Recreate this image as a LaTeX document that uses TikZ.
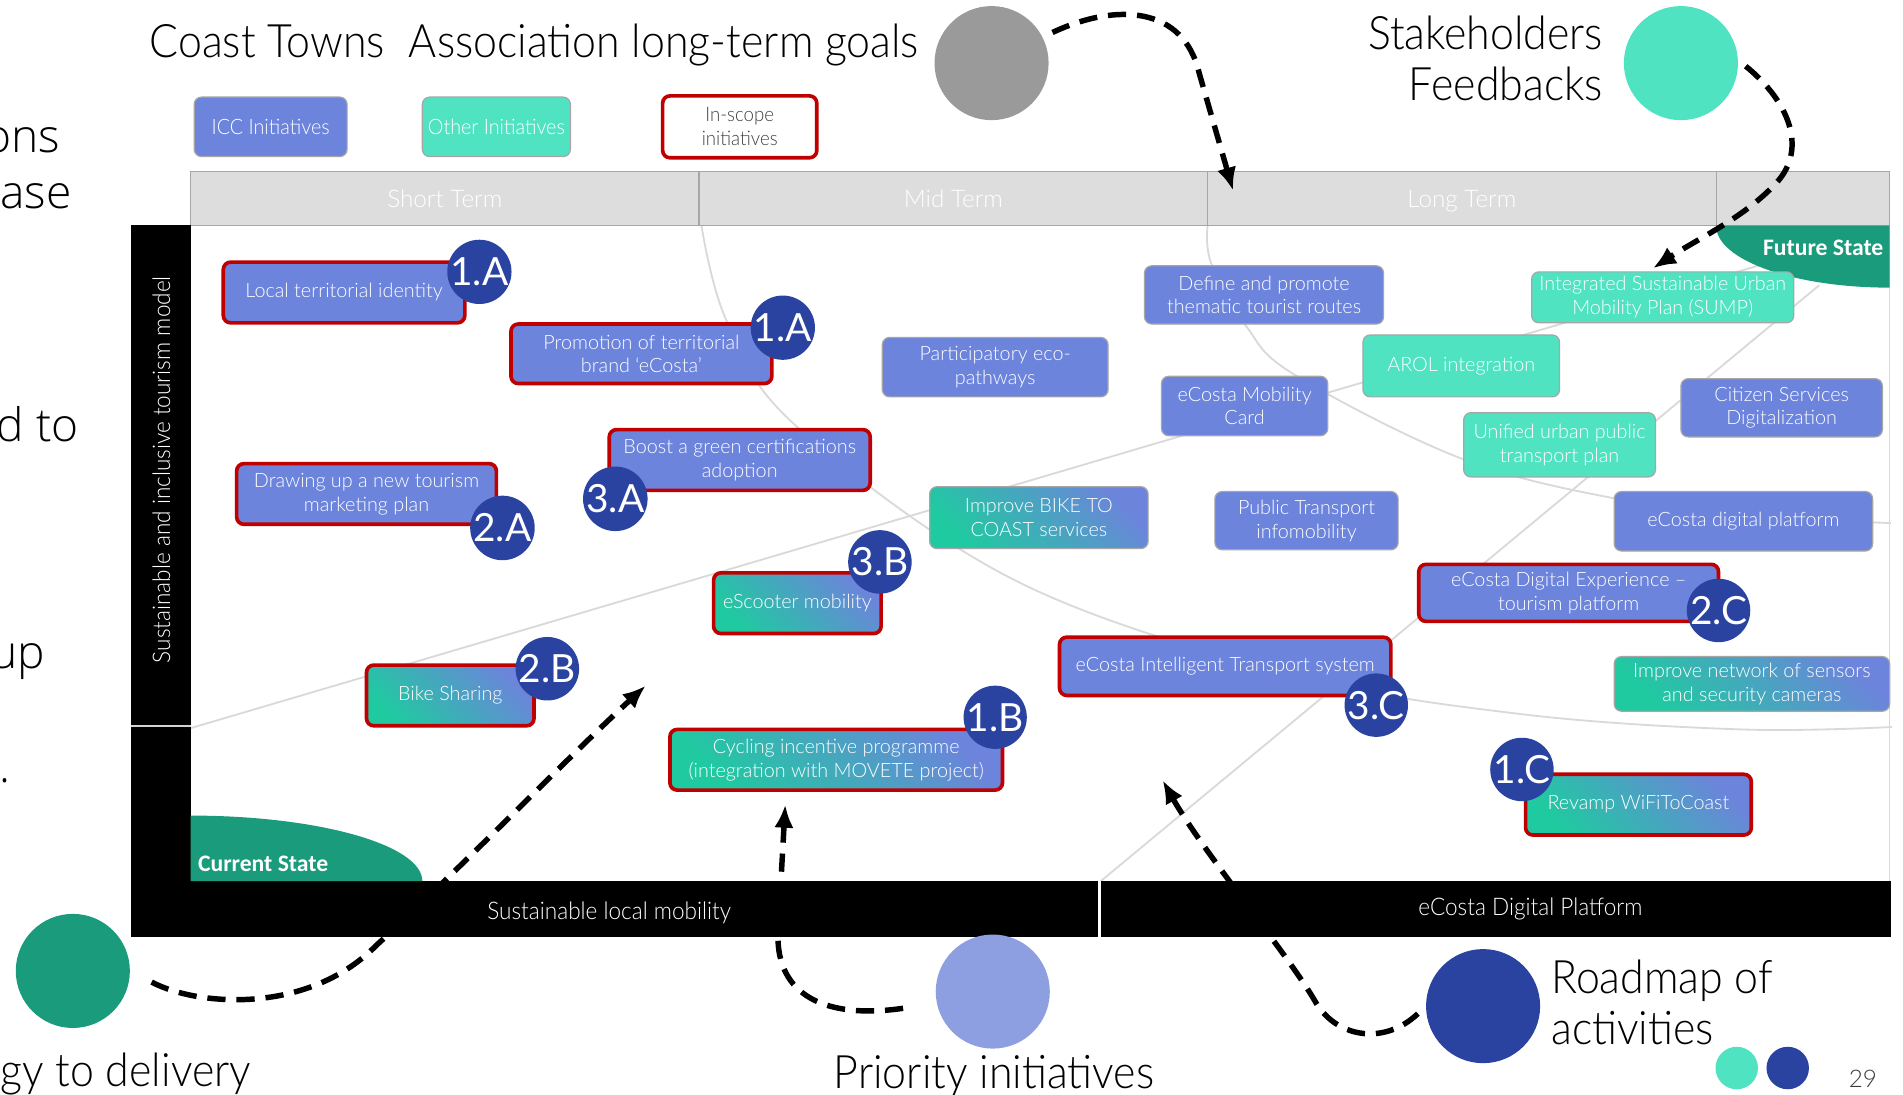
\documentclass[tikz,border=0pt]{standalone}
\usepackage{fontspec}
\usetikzlibrary{arrows.meta}

\IfFontExistsTF{Lato Light}{%
  \newfontfamily\latolight{Lato Light}%
  \newfontfamily\narrowlight{Lato Light}[FakeStretch=0.93]%
}{%
  \newfontfamily\latolight{Lato}%
  \newfontfamily\narrowlight{Lato}[FakeStretch=0.93]%
}
\newfontfamily\latoreg{Lato}
\newfontfamily\carlito{Carlito}
\IfFontExistsTF{Open Sans Light}{\newfontfamily\geofont{Open Sans Light}}{\newfontfamily\geofont{Open Sans}}
\newcommand\setfs[2]{\fontsize{#1}{#2}\selectfont}

\definecolor{iccblue}{HTML}{6C84DB}
\definecolor{turq}{HTML}{50E3C2}
\definecolor{tealg}{HTML}{1FCAA0}
\definecolor{deepgreen}{HTML}{1A9B7C}
\definecolor{navy}{HTML}{2A43A0}
\definecolor{lilac}{HTML}{8E9FE1}
\definecolor{scopered}{HTML}{C00000}
\definecolor{edgegray}{HTML}{A6A6A6}
\definecolor{headgray}{HTML}{DDDDDD}
\definecolor{roadgray}{HTML}{D9D9D9}
\definecolor{circgray}{HTML}{9A9A9A}
\definecolor{inktext}{HTML}{404040}
\definecolor{pagegray}{HTML}{3A3A3A}

\begin{document}
\begin{tikzpicture}[x=1pt, y=-1pt,
  initbox/.style={rounded corners=6pt, draw=edgegray, line width=1pt, text=white,
    align=center, inner sep=0pt, font=\latolight\setfs{16.3}{19.6}},
  iccbox/.style={initbox, fill=iccblue},
  othbox/.style={initbox, fill=turq},
  mixbox/.style={initbox, top color=iccblue, bottom color=tealg, shading angle=-45},
  inscope/.style={draw=scopered, line width=3pt},
  badge/.style={circle, fill=navy, minimum size=48, inner sep=0pt, text=white,
    font=\latoreg\setfs{32}{32}},
  road/.style={draw=roadgray, line width=1.5},
  flow/.style={draw=black, line width=4.5, dash pattern=on 15pt off 9pt,
    -{Latex[length=19pt,width=16pt]}},
  disc/.style={circle, minimum size=94, inner sep=0pt},
  smalldisc/.style={circle, minimum size=35, inner sep=0pt},
  headcell/.style={draw=edgegray, fill=headgray, line width=1, minimum height=45,
    inner sep=0pt, text height=19pt, text depth=4pt, text=white,
    font=\latolight\setfs{20}{24}},
  barlabel/.style={text=white, inner sep=0pt, font=\narrowlight\setfs{20}{23}},
  statelabel/.style={text=white, inner sep=0pt, font=\carlito\bfseries\setfs{19.5}{23}},
  title/.style={inner sep=0pt, font=\narrowlight\setfs{38}{42}},
  frag/.style={inner sep=0pt, font=\geofont\setfs{38}{44}}
]
\useasboundingbox (0,0) rectangle (1568,902);
\fill[white] (0,0) rectangle (1568,902);

% background road curves behind the initiatives
\draw[road] plot[smooth, tension=0.6] coordinates {(578,186) (599,265) (656,351) (836,478) (1060,555) (1250,588) (1434,601) (1559,599)};
\draw[road] plot[smooth, tension=0.6] coordinates {(995,186) (998,217) (1027,269) (1067,309) (1202,377) (1327,410) (1450,425) (1558,431)};
\draw[road] (157,600) -- (1462,215);
\draw[road] (907,726) -- (1499,235);
\draw[roadgray, line width=1] (1557,186) -- (1557,726);

% time horizon header
\node[headcell, minimum width=419] (hshort) at (366.5,163.5) {Short Term};
\node[headcell, minimum width=419] (hmid) at (785.5,163.5) {Mid Term};
\node[headcell, minimum width=419] (hlong) at (1204.5,163.5) {Long Term};
\node[headcell, minimum width=143] (hend) at (1485.5,163.5) {};

% axis bars
\fill[black] (108,185) rectangle (157,597);
\fill[black] (108,599) rectangle (157,726);
\fill[black] (108,726) rectangle (905,772);
\fill[black] (907,726) rectangle (1558,772);
\draw[gray!35, line width=1.5] (108,598) -- (157,598);
\node[barlabel] (lblmob) at (502,752) {Sustainable local mobility};
\node[barlabel] (lbldig) at (1261,749) {eCosta Digital Platform};
\node[barlabel, rotate=90] (lbltour) at (133,387) {Sustainable and inclusive tourism model};

% current and future state corners
\fill[deepgreen] (157,726) -- (157,672) .. controls (262.5,672) and (348,696.2) .. (348,726) -- cycle;
\fill[deepgreen] (1414,186) .. controls (1414,214.2) and (1478,237) .. (1557,237) -- (1557,186) -- cycle;
\node[statelabel, anchor=west] (cur) at (163,712) {Current State};
\node[statelabel, anchor=east] (fut) at (1552,204) {Future State};

% legend
\node[iccbox, font=\narrowlight\setfs{17.5}{20}, minimum width=126, minimum height=49] (lgicc) at (223,104.5) {ICC Initiatives};
\node[othbox, font=\narrowlight\setfs{17.5}{20}, minimum width=122, minimum height=49] (lgoth) at (409,104.5) {Other Initiatives};
\node[initbox, inscope, fill=white, text=inktext, font=\narrowlight\setfs{16.5}{20}, minimum width=127, minimum height=51] (lgscope) at (609.5,104.5) {In-scope\\initiatives};

% initiatives
\node[iccbox, inscope, minimum width=199, minimum height=50] (lti) at (283.5,241) {Local territorial identity};
\node[iccbox, inscope, minimum width=215, minimum height=49] (promo) at (528.5,291.5) {Promotion of territorial\\brand ‘eCosta’};
\node[iccbox, minimum width=186, minimum height=49] (partic) at (820,302.5) {Participatory eco-\\pathways};
\node[iccbox, minimum width=197, minimum height=48] (define) at (1041.5,243) {Define and promote\\thematic tourist routes};
\node[othbox, minimum width=216, minimum height=42] (sump) at (1370,245) {Integrated Sustainable Urban\\Mobility Plan (SUMP)};
\node[othbox, minimum width=162, minimum height=51] (arol) at (1204,301.5) {AROL integration};
\node[iccbox, minimum width=137, minimum height=49] (mobcard) at (1025.5,334.5) {eCosta Mobility\\Card};
\node[iccbox, minimum width=166, minimum height=48] (citizen) at (1468,336) {Citizen Services\\Digitalization};
\node[othbox, minimum width=158, minimum height=53] (unified) at (1285,366.5) {Unified urban public\\transport plan};
\node[iccbox, inscope, minimum width=214, minimum height=50] (drawing) at (302,407) {Drawing up a new tourism\\marketing plan};
\node[iccbox, inscope, minimum width=215, minimum height=50] (boost) at (609.5,379) {Boost a green certifications\\adoption};
\node[mixbox, minimum width=180, minimum height=51] (bikecoast) at (856,426.5) {Improve BIKE TO\\COAST services};
\node[iccbox, minimum width=151, minimum height=48] (ptinfo) at (1076.5,429) {Public Transport\\infomobility};
\node[iccbox, minimum width=213, minimum height=49] (digplat) at (1436.5,429.5) {eCosta digital platform};
\node[mixbox, inscope, minimum width=138, minimum height=50] (escooter) at (657,497) {eScooter mobility};
\node[iccbox, inscope, minimum width=247, minimum height=47] (digexp) at (1292.5,488.5) {eCosta Digital Experience –\\tourism platform};
\node[iccbox, inscope, minimum width=273, minimum height=48] (its) at (1009.5,549) {eCosta Intelligent Transport system};
\node[mixbox, minimum width=227, minimum height=45] (sensors) at (1443.5,563.5) {Improve network of sensors\\and security cameras};
\node[mixbox, inscope, minimum width=138, minimum height=50] (bikeshare) at (371,573) {Bike Sharing};
\node[mixbox, inscope, minimum width=274, minimum height=50] (cycling) at (689,626) {Cycling incentive programme\\(integration with MOVETE project)};
\node[mixbox, inscope, minimum width=186, minimum height=50] (wifi) at (1350,663) {Revamp WiFiToCoast};

% priority badges
\node[badge] (bdgA) at (395,224) {1.A};
\node[badge] (bdgB) at (645,270) {1.A};
\node[badge] (bdgC) at (414,435) {2.A};
\node[badge] (bdgD) at (507,411) {3.A};
\node[badge] (bdgE) at (725,463) {3.B};
\node[badge] (bdgF) at (1416,503) {2.C};
\node[badge] (bdgG) at (1134,581) {3.C};
\node[badge] (bdgH) at (451,551) {2.B};
\node[badge] (bdgI) at (820,591) {1.B};
\node[badge] (bdgJ) at (1254,634) {1.C};

% surrounding circles and captions
\node[disc, fill=circgray] (gcirc) at (817,52) {};
\node[disc, fill=turq] (tcirc) at (1385,52) {};
\node[disc, fill=deepgreen] (dgcirc) at (60,800) {};
\node[disc, fill=lilac] (lcirc) at (818,817) {};
\node[disc, fill=navy] (dbcirc) at (1222,829) {};
\node[smalldisc, fill=turq] (dotA) at (1431,880) {};
\node[smalldisc, fill=navy] (dotB) at (1473,880) {};

\node[title, anchor=base west] (ttl) at (123,47) {Coast Towns\hspace{10pt} Association long-term goals};
\node[title, anchor=base east] (stakeA) at (1321,41) {Stakeholders};
\node[title, anchor=base east] (stakeB) at (1321,83) {Feedbacks};
\node[title, anchor=base west] (roadA) at (1278,819) {Roadmap of};
\node[title, anchor=base west] (roadB) at (1278,861) {activities};
\node[title, anchor=base] (prio) at (819,897) {Priority initiatives};
\node[title, anchor=base east] (deliv) at (207,895) {gy to delivery};

\node[frag, anchor=base east] (fragA) at (50,126) {ons};
\node[frag, anchor=base east] (fragB) at (59,172) {ase};
\node[frag, anchor=base east] (fragC) at (65,364) {d to};
\node[frag, anchor=base east] (fragD) at (37,551) {up};
\node[frag, anchor=base east] (fragE) at (9,645) {.};

\node[inner sep=0pt, text=pagegray, font=\latolight\setfs{20}{22}] (pagenum) at (1535,889) {29};

% dashed flows
\coordinate (tipA) at (1016,157);
\coordinate (tipB) at (1362,221);
\coordinate (tipC) at (532,565);
\coordinate (tipD) at (647,663);
\coordinate (tipE) at (958,643);
\draw[flow, shorten <=9pt] (gcirc.27) .. controls (920,2) and (975,5) .. (988,60) -- (tipA);
\draw[flow, shorten <=8pt] (tcirc.3) .. controls (1470,80) and (1490,118) .. (1466,148) .. controls (1440,178) and (1400,196) .. (tipB);
\draw[flow, shorten <=20pt] (dgcirc.0) .. controls (165,830) and (255,835) .. (310,779) .. controls (380,715) and (470,622) .. (tipC);
\draw[flow, shorten <=28pt] (lcirc.192) .. controls (680,840) and (640,820) .. (641,770) -- (tipD);
\draw[flow, shorten <=9pt] (dbcirc.180) .. controls (1140,862) and (1100,855) .. (1083,824) .. controls (1060,785) and (990,700) .. (tipE);
\end{tikzpicture}
\end{document}
